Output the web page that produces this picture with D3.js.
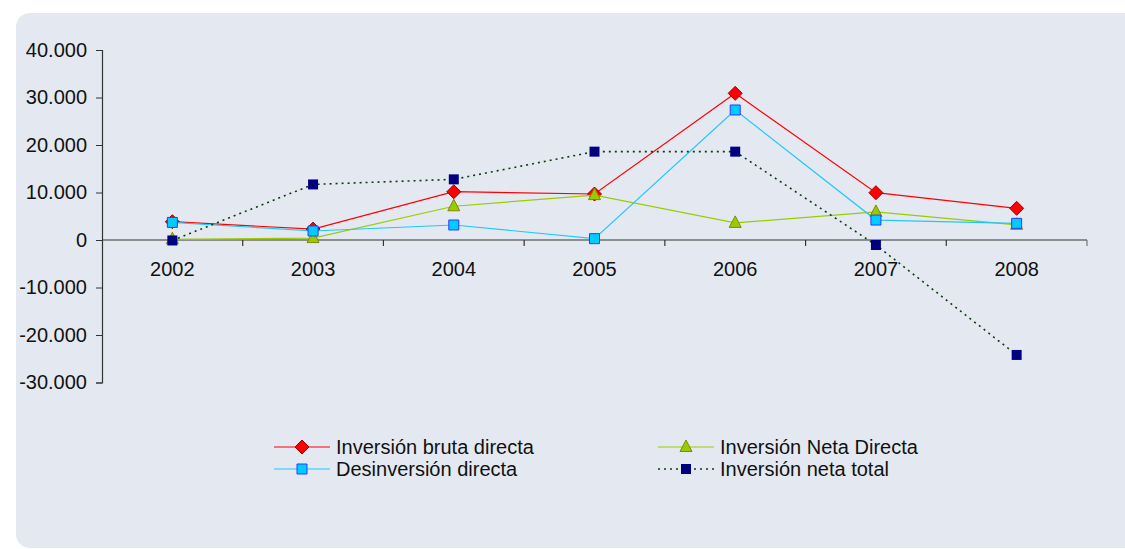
<!DOCTYPE html>
<html>
<head>
<meta charset="utf-8">
<script src="https://d3js.org/d3.v7.min.js"></script>
<style>
  body { margin: 0; background: #ffffff; }
  svg { display: block; font-family: "Liberation Sans", Arial, sans-serif; }
</style>
</head>
<body>
<div class="chart"></div>
<script>
// data
var years = ["2002", "2003", "2004", "2005", "2006", "2007", "2008"];
var brutaDirecta = [3850, 2300, 10170, 9680, 30880, 9960, 6670];
var netaDirecta = [150, 400, 7100, 9450, 3600, 5900, 3200];
var desinversion = [3700, 1900, 3160, 280, 27370, 4200, 3500];
var netaTotal = [-100, 11700, 12770, 18600, 18600, -1050, -24200];
var yTicks = [-30000, -20000, -10000, 0, 10000, 20000, 30000, 40000];

var seriesNames = ["Inversión bruta directa", "Inversión Neta Directa", "Desinversión directa", "Inversión neta total"];

var series = [
  {name: seriesNames[0], values: brutaDirecta, line: "#ff0000", fill: "#ff0000", stroke: "#a00000", shape: "diamond", dash: null, lw: 1.2},
  {name: seriesNames[1], values: netaDirecta, line: "#99cc00", fill: "#99cc00", stroke: "#7f8a00", shape: "triangle", dash: null, lw: 1.2},
  {name: seriesNames[2], values: desinversion, line: "#1ec8ff", fill: "#00ccff", stroke: "#2a3cff", shape: "square", dash: null, lw: 1.2},
  {name: seriesNames[3], values: netaTotal, line: "#0b3d0b", fill: "#000080", stroke: "#000080", shape: "block", dash: "2,4", lw: 1.6}
];

var W = 1125, H = 549;
var svg = d3.select(".chart")
  .append("svg")
    .attr("width", W)
    .attr("height", H);

// panel
svg.append("rect")
  .attr("x", 16)
  .attr("y", 13)
  .attr("width", W)
  .attr("height", 535)
  .attr("rx", 14)
  .attr("ry", 14)
  .attr("fill", "#e4e9f1");

var xScale = d3.scaleBand()
  .domain(years)
  .range([102, 1087]);

var yScale = d3.scaleLinear()
  .domain([-30000, 40000])
  .range([382.5, 50]);

var locale = d3.formatLocale({decimal: ",", thousands: ".", grouping: [3], currency: ["", "€"], minus: "-"});
var fmt = locale.format(",d");

// y axis
var yAxis = d3.axisLeft(yScale)
  .tickValues(yTicks)
  .tickSize(6)
  .tickPadding(9)
  .tickFormat(fmt);

var gy = svg.append("g")
  .attr("transform", "translate(102,0)")
  .call(yAxis);
gy.select(".domain").attr("stroke", "#333").attr("stroke-width", 1.2);
gy.selectAll(".tick line").attr("stroke", "#333");
gy.selectAll("text")
  .attr("font-size", 20)
  .attr("fill", "#111");

// x axis through zero
var gx = svg.append("g")
  .attr("transform", "translate(0," + yScale(0) + ")");
gx.append("line")
  .attr("x1", 102)
  .attr("x2", 1087)
  .attr("stroke", "#333")
  .attr("stroke-width", 1.2);
var bounds = years.map(function(d) { return xScale(d); }).concat([xScale.range()[1]]);
gx.selectAll(".xt")
  .data(bounds.slice(1))
  .enter()
  .append("line")
    .attr("x1", function(d) { return d; })
    .attr("x2", function(d) { return d; })
    .attr("y1", 0)
    .attr("y2", 6)
    .attr("stroke", function(d, i) { return i === bounds.length - 2 ? "#777" : "#333"; })
    .attr("stroke-width", 1.2);
gx.selectAll(".xl")
  .data(years)
  .enter()
  .append("text")
    .attr("x", function(d) { return xScale(d) + xScale.bandwidth() / 2; })
    .attr("y", 36)
    .attr("text-anchor", "middle")
    .attr("font-size", 20)
    .attr("fill", "#111")
    .text(function(d) { return d; });

function markerPath(shape) {
  if (shape === "diamond") return "M0,-7L7,0L0,7L-7,0Z";
  if (shape === "triangle") return "M0,-7L6,4.5L-6,4.5Z";
  if (shape === "square") return "M-5,-5H5V5H-5Z";
  return "M-5,-5H5V5H-5Z";
}

var line = d3.line()
  .x(function(d, i) { return xScale(years[i]) + xScale.bandwidth() / 2; })
  .y(function(d) { return yScale(d); });

series.forEach(function(s) {
  var g = svg.append("g");
  g.append("path")
    .datum(s.values)
    .attr("d", line)
    .attr("fill", "none")
    .attr("stroke", s.line)
    .attr("stroke-width", s.lw)
    .attr("stroke-dasharray", s.dash);
  g.selectAll("path.mk")
    .data(s.values)
    .enter()
    .append("path")
      .attr("class", "mk")
      .attr("d", markerPath(s.shape))
      .attr("transform", function(d, i) {
        return "translate(" + (xScale(years[i]) + xScale.bandwidth() / 2) + "," + yScale(d) + ")";
      })
      .attr("fill", s.fill)
      .attr("stroke", s.stroke)
      .attr("stroke-width", s.shape === "block" ? 0 : 1);
});

// legend
var legendPos = [[274, 447], [658, 447], [274, 469], [658, 469]];
series.forEach(function(s, i) {
  var lg = svg.append("g")
    .attr("transform", "translate(" + legendPos[i][0] + "," + legendPos[i][1] + ")");
  lg.append("line")
    .attr("x1", 0)
    .attr("x2", 56)
    .attr("stroke", s.line)
    .attr("stroke-width", s.lw)
    .attr("stroke-dasharray", s.dash);
  lg.append("path")
    .attr("d", markerPath(s.shape))
    .attr("transform", "translate(28,0)")
    .attr("fill", s.fill)
    .attr("stroke", s.stroke)
    .attr("stroke-width", s.shape === "block" ? 0 : 1);
  lg.append("text")
    .attr("x", 62)
    .attr("y", 7)
    .attr("font-size", 20)
    .attr("fill", "#111")
    .text(s.name);
});
</script>
</body>
</html>
